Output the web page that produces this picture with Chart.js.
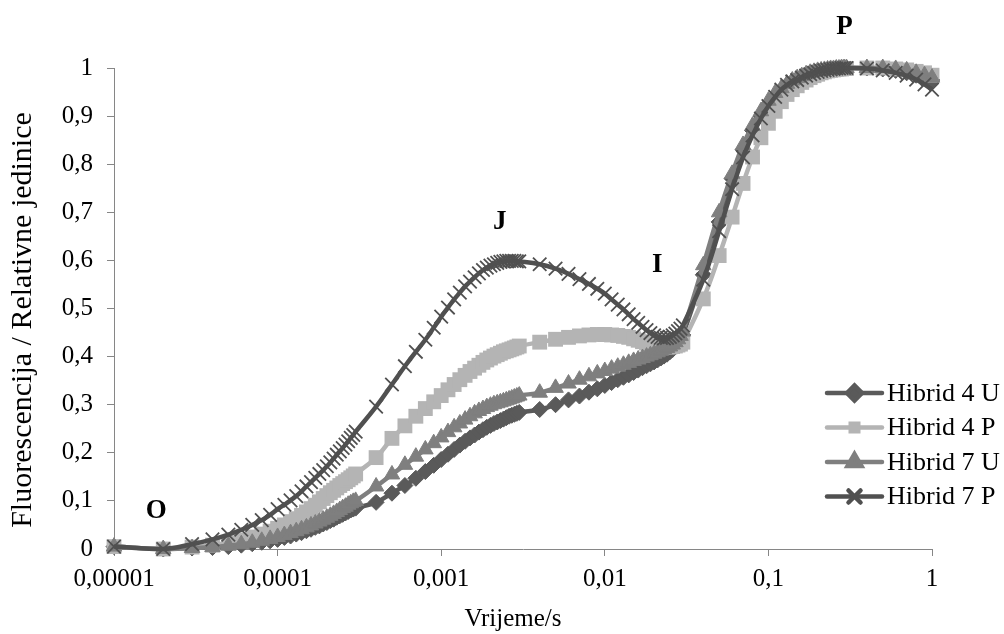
<!DOCTYPE html>
<html>
<head>
<meta charset="utf-8">
<script src="https://cdn.jsdelivr.net/npm/chart.js@4.4.1/dist/chart.umd.min.js"></script>
<style>
html,body{margin:0;padding:0;background:#fff;}
#c{display:block;}
</style>
</head>
<body>
<canvas id="c" width="1004" height="634"></canvas>
<script>
// ---- Data (time in seconds, relative fluorescence) ----
const times = [
 0.00001,0.00002,0.00003,0.00004,0.00005,0.00006,0.00007,0.00008,0.00009,0.0001,
 0.00011,0.00012,0.00013,0.00014,0.00015,0.00016,0.00017,0.00018,0.00019,0.0002,
 0.00021,0.00022,0.00023,0.00024,0.00025,0.00026,0.00027,0.00028,0.00029,0.0003,
 0.0004,0.0005,0.0006,0.0007,0.0008,0.0009,
 0.001,0.0011,0.0012,0.0013,0.0014,0.0015,0.0016,0.0017,0.0018,0.0019,
 0.002,0.0021,0.0022,0.0023,0.0024,0.0025,0.0026,0.0027,0.0028,0.0029,0.003,
 0.004,0.005,0.006,0.007,0.008,0.009,
 0.010,0.011,0.012,0.013,0.014,0.015,0.016,0.017,0.018,0.019,
 0.020,0.021,0.022,0.023,0.024,0.025,0.026,0.027,0.028,0.029,0.030,
 0.04,0.05,0.06,0.07,0.08,0.09,
 0.10,0.11,0.12,0.13,0.14,0.15,0.16,0.17,0.18,0.19,
 0.20,0.21,0.22,0.23,0.24,0.25,0.26,0.27,0.28,0.29,0.30,
 0.4,0.5,0.6,0.7,0.8,0.9,1.0
];

const hibrid4U = [
 0.005,0.000,0.002,0.003,0.005,0.008,0.011,0.014,0.017,0.020,
 0.024,0.027,0.031,0.034,0.038,0.041,0.045,0.048,0.052,0.055,
 0.059,0.062,0.066,0.069,0.072,0.075,0.078,0.081,0.083,0.085,
 0.097,0.116,0.132,0.147,0.161,0.174,
 0.186,0.197,0.207,0.216,0.224,0.231,0.237,0.243,0.248,0.253,
 0.257,0.261,0.264,0.267,0.270,0.273,0.276,0.278,0.280,0.282,0.284,
 0.290,0.300,0.310,0.318,0.326,0.333,
 0.340,0.346,0.352,0.357,0.362,0.367,0.372,0.377,0.381,0.385,
 0.389,0.393,0.397,0.401,0.405,0.410,0.415,0.421,0.428,0.436,0.445,
 0.570,0.680,0.770,0.830,0.870,0.900,
 0.925,0.942,0.955,0.965,0.972,0.978,0.982,0.986,0.989,0.991,
 0.993,0.995,0.996,0.997,0.998,0.998,0.999,0.999,1.000,1.000,1.000,
 1.000,0.998,0.995,0.990,0.985,0.980,0.975
];

const hibrid4P = [
 0.005,0.000,0.004,0.008,0.013,0.019,0.025,0.031,0.037,0.043,
 0.050,0.057,0.063,0.070,0.077,0.084,0.091,0.098,0.105,0.111,
 0.117,0.122,0.127,0.132,0.136,0.140,0.144,0.148,0.152,0.156,
 0.190,0.230,0.256,0.276,0.292,0.306,
 0.319,0.331,0.342,0.352,0.361,0.369,0.376,0.382,0.388,0.393,
 0.397,0.401,0.404,0.407,0.410,0.412,0.414,0.416,0.418,0.420,0.422,
 0.430,0.436,0.440,0.443,0.445,0.446,
 0.446,0.445,0.444,0.442,0.440,0.437,0.434,0.431,0.428,0.426,
 0.424,0.422,0.421,0.420,0.420,0.420,0.421,0.422,0.424,0.426,0.430,
 0.520,0.610,0.690,0.760,0.815,0.855,
 0.885,0.910,0.930,0.945,0.955,0.963,0.970,0.975,0.980,0.984,
 0.987,0.990,0.992,0.994,0.995,0.996,0.997,0.998,0.998,0.999,0.999,
 1.000,1.000,0.998,0.996,0.993,0.990,0.985
];

const hibrid7U = [
 0.005,0.000,0.002,0.004,0.007,0.010,0.013,0.017,0.021,0.025,
 0.029,0.033,0.037,0.041,0.045,0.049,0.053,0.057,0.061,0.065,
 0.069,0.073,0.077,0.081,0.085,0.088,0.092,0.095,0.098,0.100,
 0.130,0.155,0.175,0.192,0.207,0.220,
 0.232,0.243,0.253,0.261,0.269,0.276,0.282,0.287,0.291,0.295,
 0.298,0.301,0.303,0.305,0.307,0.309,0.311,0.313,0.315,0.317,0.319,
 0.325,0.335,0.344,0.352,0.359,0.365,
 0.370,0.375,0.379,0.383,0.387,0.391,0.394,0.397,0.400,0.403,
 0.406,0.409,0.412,0.415,0.418,0.421,0.425,0.430,0.436,0.443,0.452,
 0.590,0.700,0.780,0.840,0.880,0.910,
 0.932,0.948,0.958,0.967,0.974,0.979,0.983,0.987,0.990,0.992,
 0.994,0.995,0.996,0.997,0.998,0.998,0.999,0.999,1.000,1.000,1.000,
 1.000,1.000,0.998,0.995,0.990,0.985,0.980
];

const hibrid7P = [
 0.005,0.000,0.010,0.020,0.030,0.040,0.050,0.060,0.071,0.083,
 0.092,0.101,0.110,0.120,0.130,0.139,0.148,0.156,0.164,0.172,
 0.180,0.188,0.196,0.203,0.210,0.217,0.224,0.231,0.237,0.244,
 0.296,0.342,0.380,0.410,0.435,0.460,
 0.483,0.502,0.519,0.533,0.546,0.556,0.565,0.573,0.580,0.585,
 0.589,0.592,0.595,0.597,0.598,0.599,0.599,0.599,0.599,0.598,0.598,
 0.592,0.583,0.572,0.561,0.551,0.541,
 0.531,0.519,0.508,0.498,0.488,0.478,0.470,0.462,0.455,0.449,
 0.444,0.441,0.439,0.438,0.439,0.441,0.444,0.448,0.453,0.458,0.465,
 0.560,0.661,0.748,0.814,0.860,0.895,
 0.921,0.940,0.955,0.965,0.972,0.975,0.980,0.984,0.987,0.990,
 0.992,0.994,0.995,0.996,0.997,0.998,0.999,0.999,1.000,1.000,1.000,
 0.999,0.995,0.990,0.984,0.976,0.966,0.955
];

const seriesNames = ['Hibrid 4 U','Hibrid 4 P','Hibrid 7 U','Hibrid 7 P'];
const xTickValues = [0.00001,0.0001,0.001,0.01,0.1,1];
const xTickLabels = ['0,00001','0,0001','0,001','0,01','0,1','1'];
const xTitle = 'Vrijeme/s';
const yTitle = 'Fluorescencija / Relativne jedinice';

// phase labels O, J, I, P (data coordinates)
const phaseLabels = ['O','J','I','P'];
const phaseX = [0.0000181,0.00228,0.0209,0.292];
const phaseY = [0.079,0.68,0.59,1.085];

// ---- styles ----
const FONT = '"Liberation Serif","Times New Roman",serif';
const styles = [
  {color:'#5a5a5a', point:'rectRot', r:8, bw:1, lr:7.5},
  {color:'#b4b4b4', point:'rect', r:10.5, bw:0, lr:8.5},
  {color:'#7f7f7f', point:'triangle', r:9, bw:1, lr:8},
  {color:'#505050', point:'crossRot', r:9.5, bw:1.8, lr:8.5}
];
const values = [hibrid4U, hibrid4P, hibrid7U, hibrid7P];

const datasets = values.map((vals, i) => ({
  label: seriesNames[i],
  data: times.map((t, k) => ({x: t, y: vals[k]})),
  borderColor: styles[i].color,
  backgroundColor: styles[i].color,
  pointBackgroundColor: styles[i].color,
  pointBorderColor: styles[i].color,
  pointStyle: styles[i].point,
  pointRadius: styles[i].r,
  pointBorderWidth: styles[i].bw,
  borderWidth: 4.5,
  tension: 0.4,
  fill: false,
  clip: false,
  order: 3 - i
}));

const overlay = {
  id: 'overlay',
  afterDraw(chart) {
    const ctx = chart.ctx;
    const xs = chart.scales.x, ys = chart.scales.y;
    ctx.save();
    ctx.fillStyle = '#000';
    ctx.textAlign = 'center';
    ctx.textBaseline = 'middle';
    // axis titles
    ctx.font = '25px ' + FONT;
    ctx.fillText(xTitle, 513, 619);
    ctx.save();
    ctx.translate(23, 320);
    ctx.rotate(-Math.PI / 2);
    ctx.font = '30px ' + FONT;
    ctx.fillText(yTitle, 0, 0);
    ctx.restore();
    // phase labels
    ctx.font = 'bold 27px ' + FONT;
    phaseLabels.forEach((l, i) => {
      ctx.fillText(l, xs.getPixelForValue(phaseX[i]), ys.getPixelForValue(phaseY[i]));
    });
    // legend
    const lx0 = 827, lx1 = 882, top = 393, gap = 34.5;
    chart.data.datasets.forEach((ds, i) => {
      const yy = top + i * gap;
      ctx.strokeStyle = ds.borderColor;
      ctx.lineWidth = 4.5;
      ctx.lineCap = 'round';
      ctx.beginPath(); ctx.moveTo(lx0, yy); ctx.lineTo(lx1, yy); ctx.stroke();
      ctx.fillStyle = ds.pointBackgroundColor;
      ctx.strokeStyle = ds.pointBorderColor;
      Chart.helpers.drawPoint(ctx, {pointStyle: ds.pointStyle, radius: styles[i].lr, borderWidth: ds.pointBorderWidth, rotation: 0}, (lx0 + lx1) / 2, yy);
      ctx.fillStyle = '#000';
      ctx.textAlign = 'left';
      ctx.textBaseline = 'middle';
      ctx.font = '26px ' + FONT;
      ctx.fillText(ds.label, 887, yy + 1);
    });
    ctx.restore();
  }
};

new Chart(document.getElementById('c'), {
  type: 'line',
  data: {datasets},
  plugins: [overlay],
  options: {
    responsive: false,
    animation: false,
    layout: {padding: {top: 68, right: 72, left: 0, bottom: 0}},
    plugins: {legend: {display: false}, tooltip: {enabled: false}},
    scales: {
      x: {
        type: 'logarithmic',
        min: 0.00001, max: 1,
        afterBuildTicks: s => { s.ticks = xTickValues.map(v => ({value: v})); },
        afterFit: s => { s.height = 85; },
        ticks: {
          autoSkip: false, maxRotation: 0, color: '#000', padding: 8,
          font: {family: FONT, size: 25},
          callback: (v) => { const k = xTickValues.findIndex(t => Math.abs(t - v) / t < 1e-6); return k >= 0 ? xTickLabels[k] : ''; }
        },
        grid: {drawOnChartArea: false, drawTicks: true, tickLength: 7, color: '#868686', lineWidth: 1},
        border: {color: '#868686', width: 1},
        title: {display: false}
      },
      y: {
        min: 0, max: 1,
        afterFit: s => { s.width = 114; },
        ticks: {
          stepSize: 0.1, color: '#000', padding: 14,
          font: {family: FONT, size: 25},
          callback: v => String(Math.round(v * 10) / 10).replace('.', ',')
        },
        grid: {drawOnChartArea: false, drawTicks: true, tickLength: 7, color: '#868686', lineWidth: 1},
        border: {color: '#868686', width: 1},
        title: {display: false}
      }
    }
  }
});
</script>
</body>
</html>
